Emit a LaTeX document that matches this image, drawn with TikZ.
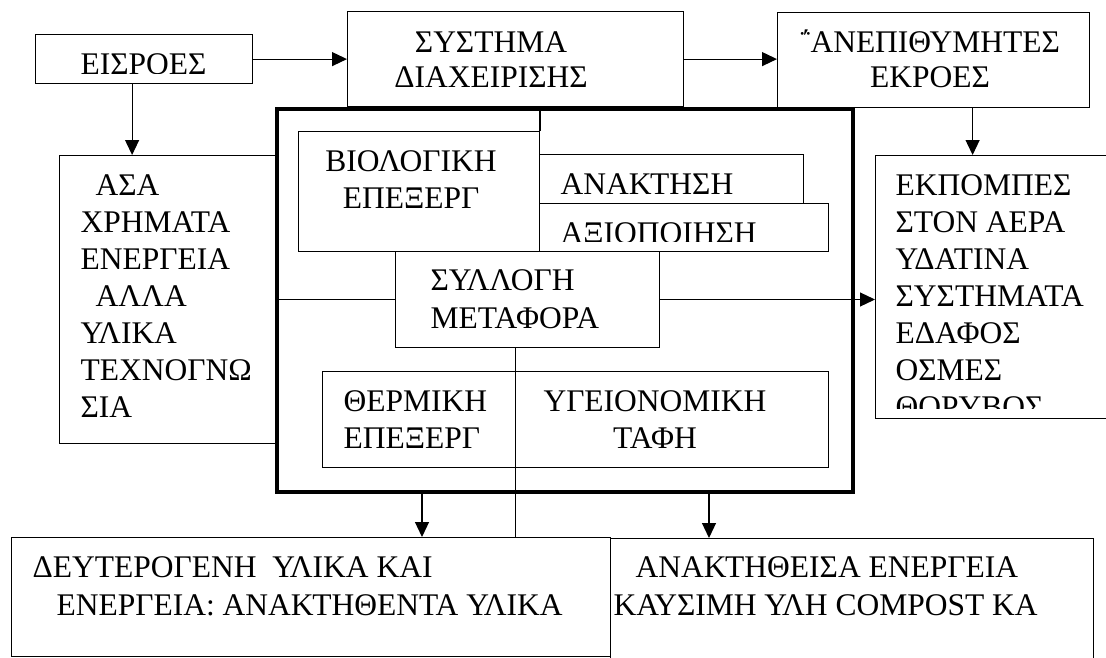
\documentclass[tikz,border=0pt]{standalone}
\usepackage{fontspec}
\setmainfont{Liberation Serif}
\usetikzlibrary{arrows.meta}

\begin{document}
\begin{tikzpicture}[x=1pt, y=-1pt, line width=1.2pt,
    >={Triangle[length=15pt,width=14pt]},
    box/.style={draw, line width=1.2pt, inner sep=0pt, anchor=north west},
    txt/.style={inner sep=0pt, font=\fontsize{31.5}{37}\selectfont}]
    \useasboundingbox (0,0) rectangle (1106,657);
    \clip (0,0) rectangle (1106,657);

    % Central system
    \node[box, line width=4pt, minimum width=576pt, minimum height=383pt] (main) at (275,107) {};

    % Top row
    \node[box, minimum width=217pt, minimum height=49pt] (eis) at (35,34) {};
    \node[box, minimum width=336pt, minimum height=95pt] (sys) at (347,11) {};
    \node[box, minimum width=312pt, minimum height=95pt] (anep) at (777,12) {};

    % Side boxes
    \node[box, minimum width=216pt, minimum height=288pt] (inp) at (59,155) {};
    \node[box, minimum width=300pt, minimum height=263pt] (outp) at (875,155) {};

    % Inner boxes
    \node[box, line width=1pt, minimum width=241pt, minimum height=120pt] (bio) at (298,131) {};
    \node[box, line width=1pt, minimum width=264pt, minimum height=49pt] (anak) at (539,154) {};
    \node[box, line width=1pt, minimum width=289pt, minimum height=48pt] (axio) at (539,203) {};
    \node[box, line width=1pt, minimum width=264pt, minimum height=96pt] (syl) at (395,251) {};
    \node[box, line width=1pt, minimum width=506pt, minimum height=96pt] (therm) at (322,371) {};

    % Bottom row
    \node[box, minimum width=599pt, minimum height=119pt] (sec) at (11,537) {};
    \node[box, minimum width=483pt, minimum height=150pt] (rec) at (610,538) {};

    % Texts
    \begin{scope}
      \clip (eis.north west) rectangle ([yshift=11pt]eis.south east);
      \node[txt, anchor=north] (eistext) at (143.5,53) {ΕΙΣΡΟΕΣ};
    \end{scope}
    \node[txt, anchor=north, align=center, font=\fontsize{31.5}{35}\selectfont] (systext) at (491,31) {ΣΥΣΤΗΜΑ\\ΔΙΑΧΕΙΡΙΣΗΣ};
    \node[txt, anchor=north, align=center, font=\fontsize{31.5}{35}\selectfont] (aneptext) at (930,29) {΅ΑΝΕΠΙΘΥΜΗΤΕΣ\\ΕΚΡΟΕΣ};
    \node[txt, anchor=north west, align=left] (inptext) at (80,174)
      {\hspace*{15pt}ΑΣΑ\\ΧΡΗΜΑΤΑ\\ΕΝΕΡΓΕΙΑ\\\hspace*{15pt}ΑΛΛΑ\\ΥΛΙΚΑ\\ΤΕΧΝΟΓΝΩ\\ΣΙΑ};
    \begin{scope}
      \clip (outp.north west) rectangle ([yshift=11pt]outp.south east);
      \node[txt, anchor=north west, align=left] (outptext) at (895,174)
        {ΕΚΠΟΜΠΕΣ\\ΣΤΟΝ ΑΕΡΑ\\ΥΔΑΤΙΝΑ\\ΣΥΣΤΗΜΑΤΑ\\ΕΔΑΦΟΣ\\ΟΣΜΕΣ\\ΘΟΡΥΒΟΣ};
    \end{scope}
    \node[txt, anchor=north, align=center] (biotext) at (411,150) {ΒΙΟΛΟΓΙΚΗ\\ΕΠΕΞΕΡΓ};
    \node[txt, anchor=north west] (anaktext) at (560,173) {ΑΝΑΚΤΗΣΗ};
    \begin{scope}
      \clip (axio.north west) rectangle ([yshift=11pt]axio.south east);
      \node[txt, anchor=north west] (axiotext) at (560,222) {ΑΞΙΟΠΟΙΗΣΗ};
    \end{scope}
    \node[txt, anchor=north west, align=left, font=\fontsize{31.5}{38}\selectfont] (syltext) at (430,269) {ΣΥΛΛΟΓΗ\\ΜΕΤΑΦΟΡΑ};
    \node[txt, anchor=north west, align=left] (thermtext) at (343,390) {ΘΕΡΜΙΚΗ\\ΕΠΕΞΕΡΓ};
    \node[txt, anchor=north, align=center] (taftext) at (655,390) {ΥΓΕΙΟΝΟΜΙΚΗ\\ΤΑΦΗ};
    \node[txt, anchor=north west, align=left, font=\fontsize{31.5}{38}\selectfont] (sectext) at (32,556)
      {ΔΕΥΤΕΡΟΓΕΝΗ~~ΥΛΙΚΑ ΚΑΙ\\\hspace*{24pt}ΕΝΕΡΓΕΙΑ: ΑΝΑΚΤΗΘΕΝΤΑ ΥΛΙΚΑ};
    \node[txt, anchor=north west, align=left, font=\fontsize{31.5}{38}\selectfont] (rectext) at (613,556)
      {\hspace*{22pt}ΑΝΑΚΤΗΘΕΙΣΑ ΕΝΕΡΓΕΙΑ\\ΚΑΥΣΙΜΗ ΥΛΗ COMPOST ΚΑ};

    % Connectors
    \draw[->] (eis.east) -- (eis.east -| sys.west);
    \draw[->] (sys.east) -- (sys.east -| anep.west);
    \draw[->] ([xshift=-12pt]eis.south) -- ([xshift=-12pt]eis.south |- inp.north);
    \draw[->] ([xshift=39pt]anep.south) -- ([xshift=39pt]anep.south |- outp.north);
    \draw (bio.north east) -- (bio.north east |- sys.south);
    \draw (syl.west) -- (syl.west -| main.west);
    \draw[->] (syl.east) -- (syl.east -| outp.west);
    \draw ([xshift=-12pt]syl.south) -- ([xshift=-12pt]syl.south |- sec.north);
    \draw[->] ([xshift=-143pt]main.south) -- ([xshift=-143pt]main.south |- sec.north);
    \draw[->] ([xshift=144pt]main.south) -- ([xshift=144pt]main.south |- rec.north);
\end{tikzpicture}
\end{document}
